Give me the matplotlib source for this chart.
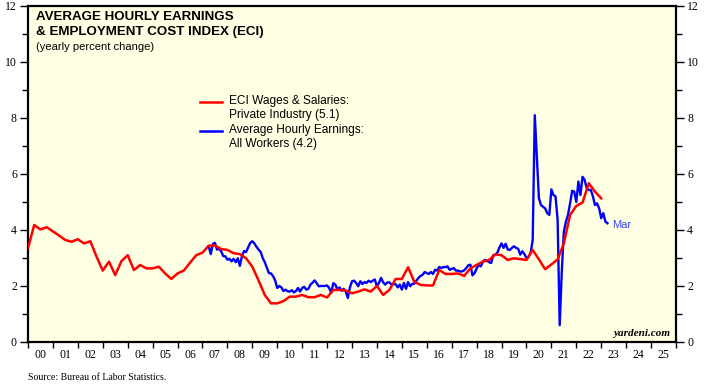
import numpy as np
import matplotlib
matplotlib.use("Agg")
import matplotlib.pyplot as plt
import matplotlib.lines as mlines

# ECI wages & salaries, private industry (yearly % change), quarterly from 2000 Q1
eci_by_year = {
    2000: [3.35, 4.18, 4.02, 4.10],
    2001: [3.95, 3.80, 3.64, 3.58],
    2002: [3.67, 3.52, 3.60, 3.05],
    2003: [2.55, 2.87, 2.39, 2.89],
    2004: [3.10, 2.57, 2.75, 2.63],
    2005: [2.63, 2.69, 2.45, 2.25],
    2006: [2.45, 2.55, 2.83, 3.10],
    2007: [3.19, 3.44, 3.45, 3.32],
    2008: [3.29, 3.17, 3.14, 2.99],
    2009: [2.69, 2.20, 1.68, 1.38],
    2010: [1.38, 1.46, 1.62, 1.62],
    2011: [1.68, 1.60, 1.60, 1.68],
    2012: [1.59, 1.86, 1.86, 1.84],
    2013: [1.74, 1.80, 1.88, 1.80],
    2014: [2.00, 1.68, 1.86, 2.25],
    2015: [2.25, 2.67, 2.15, 2.04],
    2016: [2.02, 2.02, 2.57, 2.43],
    2017: [2.43, 2.45, 2.36, 2.63],
    2018: [2.75, 2.87, 2.93, 3.13],
    2019: [3.10, 2.93, 2.99, 2.96],
    2020: [2.93, 3.29, 2.95, 2.60],
    2021: [2.77, 2.95, 3.52, 4.54],
    2022: [4.86, 4.98, 5.67, 5.37],
    2023: [5.13],
}

# Average hourly earnings, all workers (yearly % change), monthly from Mar 2007
ahe_by_year = {
    2007: [3.42, 3.14, 3.50, 3.54, 3.30, 3.33, 3.24, 3.07, 3.06, 2.94],
    2008: [2.97, 2.88, 2.97, 2.85, 2.99, 2.72, 3.06, 3.25, 3.21, 3.38, 3.54, 3.60],
    2009: [3.52, 3.40, 3.30, 3.22, 3.00, 2.85, 2.66, 2.46, 2.45, 2.35, 2.20, 1.93],
    2010: [2.00, 1.95, 1.82, 1.87, 1.81, 1.80, 1.85, 1.77, 1.82, 1.93, 1.80, 1.93],
    2011: [1.97, 1.87, 1.90, 2.05, 2.12, 2.20, 2.10, 1.99, 2.00, 2.00, 2.00, 2.02],
    2012: [1.93, 1.75, 2.10, 2.05, 1.87, 1.95, 1.83, 1.90, 1.80, 1.57, 1.95, 2.17],
    2013: [2.19, 2.11, 1.99, 2.17, 2.07, 2.14, 2.11, 2.19, 2.14, 2.19, 2.23, 1.99],
    2014: [2.11, 2.29, 2.13, 2.05, 2.13, 2.13, 2.05, 2.07, 2.07, 1.95, 2.05, 1.87],
    2015: [2.11, 1.90, 2.14, 1.99, 2.08, 2.08, 2.19, 2.29, 2.36, 2.40, 2.50, 2.46],
    2016: [2.43, 2.50, 2.43, 2.58, 2.55, 2.68, 2.64, 2.68, 2.67, 2.70, 2.58, 2.61],
    2017: [2.64, 2.55, 2.55, 2.52, 2.52, 2.56, 2.64, 2.74, 2.76, 2.38, 2.46, 2.62],
    2018: [2.76, 2.70, 2.86, 2.93, 2.90, 2.85, 2.82, 3.10, 3.12, 3.19, 3.38, 3.52],
    2019: [3.36, 3.51, 3.30, 3.29, 3.36, 3.42, 3.36, 3.33, 3.12, 3.24, 3.14, 3.00],
    2020: [3.04, 3.18, 3.64, 8.10, 6.60, 5.13, 4.89, 4.83, 4.77, 4.60, 4.54, 5.45],
    2021: [5.25, 5.20, 4.36, 0.60, 2.50, 3.94, 4.30, 4.54, 4.95, 5.40, 5.37, 5.00],
    2022: [5.73, 5.25, 5.90, 5.79, 5.49, 5.43, 5.43, 5.20, 4.89, 4.95, 4.77, 4.42],
    2023: [4.60, 4.30, 4.24],
}

year_labels = ["%02d" % (y % 100) for y in range(2000, 2026)]
eci_label = "ECI Wages & Salaries:\nPrivate Industry (5.1)"
ahe_label = "Average Hourly Earnings:\nAll Workers (4.2)"

eci = np.concatenate([eci_by_year[y] for y in sorted(eci_by_year)])
eci_x = 2000 + 0.25 * np.arange(len(eci))
ahe = np.concatenate([ahe_by_year[y] for y in sorted(ahe_by_year)])
ahe_x = 2007.25 + np.arange(len(ahe)) / 12.0

RED = "#ff0000"
BLUE = "#0000ff"
serif = "Liberation Serif"
sans = "Liberation Sans"

fig = plt.figure(figsize=(7.13, 3.84), dpi=100)
ax = fig.add_axes([28 / 713, 42 / 384, 648 / 713, 336 / 384])
ax.set_facecolor("#ffffe3")

ax.plot(eci_x, eci, color=RED, lw=1.8, zorder=3)
ax.plot(ahe_x, ahe, color=BLUE, lw=1.7, zorder=2)

ax.set_xlim(2000, 2026)
ax.set_ylim(0, 12)

# y axis: labels both sides
ax.set_yticks(np.arange(0, 13, 2))
ax.set_yticks(np.arange(1, 12, 2), minor=True)
ax.tick_params(axis="y", which="both", left=True, right=True, labelleft=True,
               labelright=True, direction="out", width=1.0, labelsize=8.5, pad=2)
ax.tick_params(axis="y", which="major", length=6)
ax.tick_params(axis="y", which="minor", length=4)

# x axis: ticks at year boundaries, labels mid-year
ax.set_xticks(np.arange(2000, 2027))
ax.set_xticklabels([])
ax.set_xticks(np.arange(2000, 2026) + 0.5, minor=True)
ax.set_xticklabels(year_labels, minor=True)
ax.tick_params(axis="x", which="major", direction="out", length=4, width=1.0)
ax.tick_params(axis="x", which="minor", length=0, labelsize=8.5, pad=5)
for lab in ax.get_xticklabels(minor=True) + ax.get_yticklabels():
    lab.set_fontfamily(serif)

for s in ax.spines.values():
    s.set_linewidth(1.6)

# title block
ax.text(8 / 648, 331 / 336, "AVERAGE HOURLY EARNINGS\n& EMPLOYMENT COST INDEX (ECI)",
        transform=ax.transAxes, ha="left", va="top", fontsize=9.6,
        fontweight="bold", family=sans, linespacing=1.3)
ax.text(8 / 648, 300 / 336, "(yearly percent change)", transform=ax.transAxes,
        ha="left", va="top", fontsize=8, family=sans)

# legend drawn by hand so the line sits on the first text line
for yp, col, lab in [(102, RED, eci_label), (131, BLUE, ahe_label)]:
    yf = (342 - yp) / 336
    ax.add_line(mlines.Line2D([(200 - 28) / 648, (222 - 28) / 648], [yf, yf],
                              color=col, lw=1.8, transform=ax.transAxes))
    ax.text((229 - 28) / 648, yf + 7 / 336, lab, transform=ax.transAxes,
            ha="left", va="top", fontsize=8.6, family=sans, linespacing=1.25)

ax.annotate("Mar", xy=(ahe_x[-1], ahe[-1]), xytext=(3, -1),
            textcoords="offset points", ha="left", va="center",
            fontsize=8, family=sans, color="#3344ff")

ax.text(0.991, 0.012, "yardeni.com", transform=ax.transAxes, ha="right",
        va="bottom", fontsize=8, family=serif, fontweight="bold", style="italic")

fig.text(28 / 713, 1 - 377 / 384, "Source: Bureau of Labor Statistics.",
         ha="left", va="center", fontsize=7, family=serif)

fig.savefig("out.png", dpi=100)
